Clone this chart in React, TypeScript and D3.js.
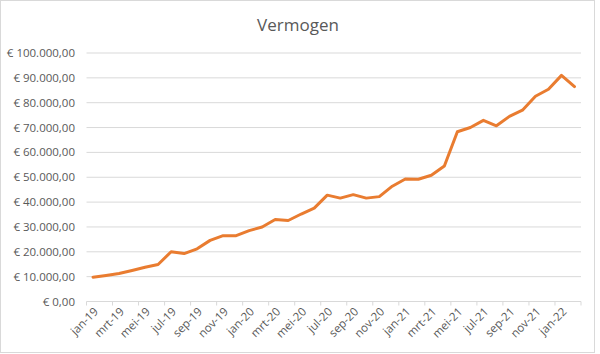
import React from "react";
import * as d3 from "d3";

const months = [
  "jan-19","feb-19","mrt-19","apr-19","mei-19","jun-19","jul-19","aug-19","sep-19","okt-19","nov-19","dec-19",
  "jan-20","feb-20","mrt-20","apr-20","mei-20","jun-20","jul-20","aug-20","sep-20","okt-20","nov-20","dec-20",
  "jan-21","feb-21","mrt-21","apr-21","mei-21","jun-21","jul-21","aug-21","sep-21","okt-21","nov-21","dec-21",
  "jan-22","feb-22",
];

const vermogen = [
  9800, 10500, 11300, 12500, 13800, 14900, 20000, 19300, 21200, 24600, 26500, 26500,
  28500, 30000, 33000, 32600, 35200, 37600, 42800, 41600, 43000, 41600, 42200, 46400,
  49300, 49200, 50800, 54500, 68300, 70000, 72900, 70700, 74500, 77000, 82600, 85400,
  91000, 86500,
];

const yTicks = [0, 10000, 20000, 30000, 40000, 50000, 60000, 70000, 80000, 90000, 100000];

const W = 600;
const H = 354;
const margin = { left: 86.5, right: 581, top: 53, bottom: 301.5 };

const fmt = (v: number) => {
  const s = d3.format(",.2f")(v);
  return "€ " + s.replace(/,/g, "#").replace(/\./g, ",").replace(/#/g, ".");
};

export default function App() {
  const x = d3.scaleBand<string>().domain(months).range([margin.left, margin.right]).paddingInner(0).paddingOuter(0);
  const y = d3.scaleLinear().domain([0, 100000]).range([margin.bottom, margin.top]);
  const line = d3
    .line<number>()
    .x((_, i) => (x(months[i]) as number) + x.bandwidth() / 2)
    .y((d) => y(d));

  const tickIdx = d3.range(0, months.length + 1, 2);
  const font = "'Open Sans', 'Noto Sans', sans-serif";

  return (
    <svg
      width={W}
      height={H}
      style={{ position: "fixed", left: 0, top: 0, background: "#fff" }}
      fontFamily={font}
    >
      <rect x={0.5} y={0.5} width={594} height={352} fill="#fff" stroke="#d9d9d9" />
      <text x={298} y={31} textAnchor="middle" fontSize={17} fill="#595959">
        Vermogen
      </text>
      {yTicks.map((t) => (
        <g key={t}>
          {t > 0 && (
            <line x1={margin.left} x2={margin.right} y1={y(t)} y2={y(t)} stroke="#d9d9d9" strokeWidth={1} />
          )}
          <text x={75} y={y(t)} dy="0.35em" textAnchor="end" fontSize={11.5} fill="#595959">
            {fmt(t)}
          </text>
        </g>
      ))}
      <line x1={margin.left} x2={margin.right} y1={y(0)} y2={y(0)} stroke="#d9d9d9" strokeWidth={1} />
      {tickIdx.map((i) => {
        const xp = margin.left + i * x.bandwidth();
        return <line key={i} x1={xp} x2={xp} y1={y(0)} y2={y(0) + 4} stroke="#d9d9d9" />;
      })}
      {months.map((m, i) =>
        i % 2 === 0 ? (
          <text
            key={m}
            transform={`translate(${(x(m) as number) + x.bandwidth() / 2 + 3},${y(0) + 8}) rotate(-45)`}
            textAnchor="end"
            dy="0.35em"
            fontSize={11.5}
            fill="#595959"
          >
            {m}
          </text>
        ) : null
      )}
      <path d={line(vermogen) as string} fill="none" stroke="#E97C30" strokeWidth={3} strokeLinejoin="round" strokeLinecap="round" />
    </svg>
  );
}
